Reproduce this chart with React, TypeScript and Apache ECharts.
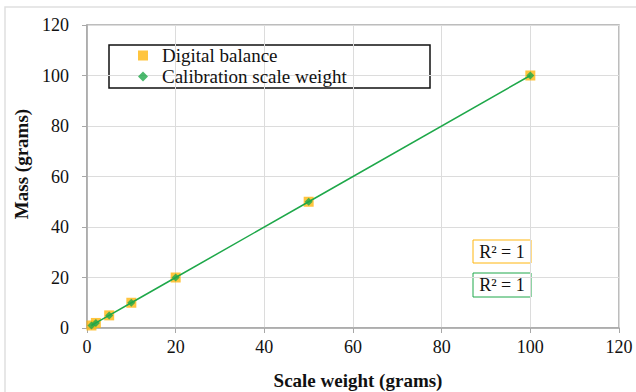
import React, { useEffect, useRef } from "react";
import * as echarts from "echarts";

// Reference weights (g) and readings
const scaleWeights = [1, 2, 5, 10, 20, 50, 100];
const balanceReadings = [1, 2, 5, 10, 20, 50, 100];
const calibrationMass = [1, 2, 5, 10, 20, 50, 100];
const axisTicks = [0, 20, 40, 60, 80, 100, 120];
const rSquaredLabels = ["R² = 1", "R² = 1"];

const SERIF = "'Times New Roman', 'Liberation Serif', serif";
const ORANGE = "#FFB60F";
const GREEN = "#1FA84A";

export default function App() {
  const ref = useRef<HTMLDivElement>(null);

  useEffect(() => {
    document.body.style.margin = "0";
    if (!ref.current) return;
    const chart = echarts.init(ref.current, null, { renderer: "svg" });
    const balance = scaleWeights.map((w, i) => [w, balanceReadings[i]]);
    const calib = scaleWeights.map((w, i) => [w, calibrationMass[i]]);
    const maxTick = axisTicks[axisTicks.length - 1];
    const step = axisTicks[1] - axisTicks[0];

    const axisCommon = {
      type: "value",
      min: 0,
      max: maxTick,
      interval: step,
      nameLocation: "middle",
      axisLine: { show: true, lineStyle: { color: "#a8a8a8", width: 1.5 } },
      axisTick: { show: true, length: 5, lineStyle: { color: "#a8a8a8" } },
      splitLine: { show: true, lineStyle: { color: "#dcdcdc", width: 1 } },
    };
    const titleStyle = { fontFamily: SERIF, fontSize: 19, fontWeight: "bold", color: "#111" };

    chart.setOption({
      animation: false,
      backgroundColor: "#ffffff",
      textStyle: { fontFamily: SERIF },
      grid: {
        left: 87,
        right: 17,
        top: 25,
        bottom: 64,
        outerBoundsMode: "none",
        show: true,
        borderColor: "#a8a8a8",
        borderWidth: 1.5,
      },
      xAxis: {
        ...axisCommon,
        name: "Scale weight (grams)",
        nameGap: 43,
        nameTextStyle: { ...titleStyle, padding: [0, 0, 0, 10] },
        axisLabel: { fontFamily: SERIF, fontSize: 18, color: "#111", margin: 10 },
      },
      yAxis: {
        ...axisCommon,
        name: "Mass (grams)",
        nameGap: 41,
        nameTextStyle: { ...titleStyle, padding: [0, 0, 0, 25] },
        axisLabel: { fontFamily: SERIF, fontSize: 18, color: "#111", margin: 18 },
      },
      legend: {
        left: 138,
        top: 46,
        padding: 0,
        orient: "vertical",
        itemGap: 2,
        itemWidth: 10,
        itemHeight: 10,
        textStyle: { fontFamily: SERIF, fontSize: 19, color: "#111", padding: [0, 0, 0, 9] },
        data: [
          { name: "Digital balance", icon: "rect" },
          { name: "Calibration scale weight", icon: "diamond" },
        ],
      },
      series: [
        {
          name: "Digital balance",
          type: "scatter",
          data: balance,
          symbol: "rect",
          symbolSize: 10,
          itemStyle: { color: ORANGE },
          z: 2,
        },
        {
          name: "Linear (Calibration scale weight)",
          type: "line",
          data: calib,
          symbol: "none",
          lineStyle: { color: GREEN, width: 1.5 },
          z: 3,
        },
        {
          name: "Calibration scale weight",
          type: "scatter",
          data: calib,
          symbol: "diamond",
          symbolSize: 8,
          itemStyle: { color: GREEN },
          z: 4,
        },
      ],
      graphic: [
        {
          type: "rect",
          shape: { x: 5, y: 7, width: 700, height: 500 },
          style: { fill: "none", stroke: "#e0e0e0", lineWidth: 1.5 },
          silent: true,
          z: -1,
        },
        {
          type: "rect",
          shape: { x: 109, y: 45, width: 321, height: 43 },
          style: { fill: "none", stroke: "#111", lineWidth: 1.5 },
          silent: true,
        },
        {
          type: "rect",
          shape: { x: 473, y: 240, width: 58, height: 23 },
          style: { fill: "#fff", stroke: ORANGE, lineWidth: 1 },
        },
        {
          type: "text",
          x: 502,
          y: 252,
          style: {
            text: rSquaredLabels[0],
            fontFamily: SERIF,
            fontSize: 18,
            fill: "#111",
            align: "center",
            verticalAlign: "middle",
          },
        },
        {
          type: "rect",
          shape: { x: 473, y: 273, width: 58, height: 24 },
          style: { fill: "#fff", stroke: GREEN, lineWidth: 1 },
        },
        {
          type: "text",
          x: 502,
          y: 285,
          style: {
            text: rSquaredLabels[1],
            fontFamily: SERIF,
            fontSize: 18,
            fill: "#111",
            align: "center",
            verticalAlign: "middle",
          },
        },
      ],
    });

    return () => chart.dispose();
  }, []);

  return <div ref={ref} style={{ width: 636, height: 392 }} />;
}
